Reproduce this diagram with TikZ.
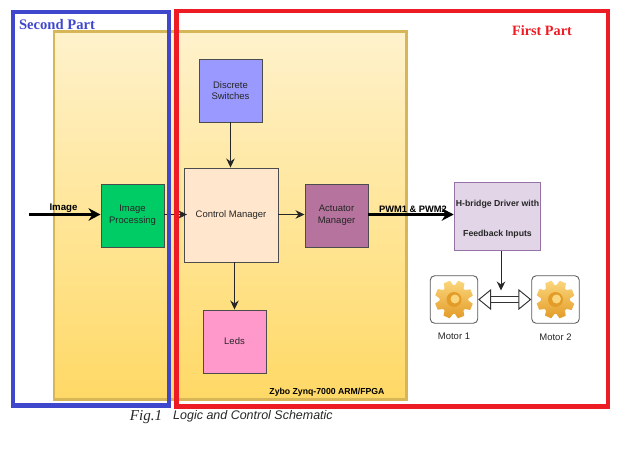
\documentclass[tikz,border=0pt]{standalone}
\usepackage{fontspec}
\setmainfont{Liberation Sans}
\newfontfamily\partfont{Liberation Serif}
\usetikzlibrary{positioning,arrows.meta}
\definecolor{blueframe}{HTML}{3F48CC}
\definecolor{redframe}{HTML}{ED1C24}
\definecolor{geartop}{HTML}{FBD67C}
\definecolor{gearlow}{HTML}{E39C28}
\newcommand{\lbl}{\fontsize{5.4}{6.6}\selectfont}
\newcommand{\lblb}{\fontsize{4.95}{6.2}\selectfont\bfseries}
\tikzset{
  block/.style={draw=black!70, line width=0.55pt, minimum width=1.26cm, minimum height=1.26cm, inner sep=1pt, align=center, font=\lbl, text=black!85},
  motorbox/.style={draw=black!65, line width=0.5pt, rounded corners=2.5pt, minimum width=0.95cm, minimum height=0.95cm, inner sep=0pt},
  frame/.style={line width=2.4pt},
  thin arrow/.style={draw=black!85, line width=0.5pt, -{Stealth[length=0.18cm,width=0.17cm]}},
  thick arrow/.style={draw=black, line width=2pt, -{Stealth[length=0.24cm,width=0.25cm]}},
  gearicon/.pic={
    \shade[top color=geartop, bottom color=gearlow] (4:0.29)
      \foreach \a in {0,45,...,315}{ -- ({\a+4}:0.29) -- ({\a+12}:0.385) -- ({\a+32}:0.385) -- ({\a+41}:0.29) } -- cycle;
    \fill[gearlow] (0,0) circle (0.15);
    \fill[geartop] (0.02,0.01) circle (0.09);
  }
}
\begin{document}
\begin{tikzpicture}
  \useasboundingbox (0,0) rectangle (12.56,-9.2);
  \node[draw={rgb,255:red,214;green,182;blue,86}, line width=1.7pt, top color={rgb,255:red,255;green,242;blue,204}, bottom color={rgb,255:red,255;green,217;blue,102}, minimum width=7.04cm, minimum height=7.35cm] (fpga) at (4.60,-4.305) {};
  \node[block, fill={rgb,255:red,153;green,153;blue,255}] (switches) at (4.61,-1.81) {Discrete\\Switches};
  \node[block, fill={rgb,255:red,255;green,230;blue,204}, minimum width=1.88cm, minimum height=1.88cm] (ctrl) at (4.62,-4.30) {Control Manager};
  \node[block, fill={rgb,255:red,0;green,204;blue,102}] (imgproc) at (2.65,-4.31) {Image\\Processing};
  \node[block, fill={rgb,255:red,181;green,115;blue,157}] (actuator) at (6.73,-4.31) {Actuator\\Manager};
  \node[block, fill={rgb,255:red,255;green,153;blue,204}] (leds) at (4.69,-6.83) {Leds};
  \node[draw={rgb,255:red,150;green,115;blue,166}, fill={rgb,255:red,225;green,213;blue,231}, line width=0.9pt, minimum width=1.72cm, minimum height=1.36cm, inner sep=0pt, align=center, font=\lblb, text=black!85] (hbridge) at (9.95,-4.33) {};
  \node[font=\lblb, text=black!85, inner sep=0pt] (hbtext1) at (9.95,-4.08) {H-bridge Driver with};
  \node[font=\lblb, text=black!85, inner sep=0pt] (hbtext2) at (9.95,-4.68) {Feedback Inputs};
  \node[motorbox] (motor1) at (9.08,-5.99) {};
  \node[motorbox] (motor2) at (11.11,-5.99) {};
  \pic at (motor1) {gearicon};
  \pic at (motor2) {gearicon};
  \node[font=\lbl, text=black!85, below=0.07cm of motor1] (motorlbl1) {Motor 1};
  \node[font=\lbl, text=black!85, below=0.07cm of motor2] (motorlbl2) {Motor 2};
  \coordinate (imgin) at (0.58,-4.29);
  \coordinate (imgto) at (imgproc.west |- imgin);
  \coordinate (busdrop) at (10.02,-5.81);
  \draw[thick arrow] (imgin) -- (imgto);
  \draw[thick arrow] (actuator.east |- imgin) -- (hbridge.west |- imgin);
  \draw[thin arrow] (imgproc.east |- imgin) -- ([xshift=0.07cm]ctrl.west |- imgin);
  \draw[thin arrow] (ctrl.east |- imgin) -- (actuator.west |- imgin);
  \draw[thin arrow] (switches.south) -- (ctrl.north -| switches.south);
  \draw[thin arrow] (leds.north |- ctrl.south) -- (leds.north);
  \draw[thin arrow] (busdrop |- hbridge.south) -- (busdrop);
  \draw[double=white, double distance=3pt, draw=black!80, line width=0.55pt, {Triangle[open, fill=white, length=0.26cm, width=0.42cm]}-{Triangle[open, fill=white, length=0.26cm, width=0.42cm]}] (motor1.east) -- (motor2.west);
  \node[font=\fontsize{5.5}{6.6}\selectfont\bfseries, inner sep=0pt] (imglbl) at (1.27,-4.16) {Image};
  \node[font=\fontsize{5.3}{6.6}\selectfont\bfseries, inner sep=0pt] (pwmlbl) at (8.26,-4.18) {PWM1 \& PWM2};
  \node[font=\lblb, inner sep=0pt] (zybo) at (6.54,-7.84) {Zybo Zynq-7000 ARM/FPGA};
  \draw[frame, draw=blueframe] (0.26,-0.24) rectangle (3.38,-8.11);
  \draw[frame, draw=redframe] (3.53,-0.22) rectangle (12.16,-8.13);
  \node[font=\partfont\fontsize{8.3}{10}\selectfont\bfseries, text=blueframe, inner sep=0pt] (secondlbl) at (1.14,-0.50) {Second Part};
  \node[font=\partfont\fontsize{8.1}{10}\selectfont\bfseries, text=redframe, inner sep=0pt] (firstlbl) at (10.84,-0.62) {First Part};
  \node[font=\partfont\fontsize{8.6}{10}\selectfont\itshape, text=black!85, inner sep=0pt] (figlbl) at (2.92,-8.35) {Fig.1};
  \node[font=\fontsize{7.1}{9}\selectfont\itshape, text=black!85, inner sep=0pt] (caption) at (5.06,-8.33) {Logic and Control Schematic};
\end{tikzpicture}
\end{document}
